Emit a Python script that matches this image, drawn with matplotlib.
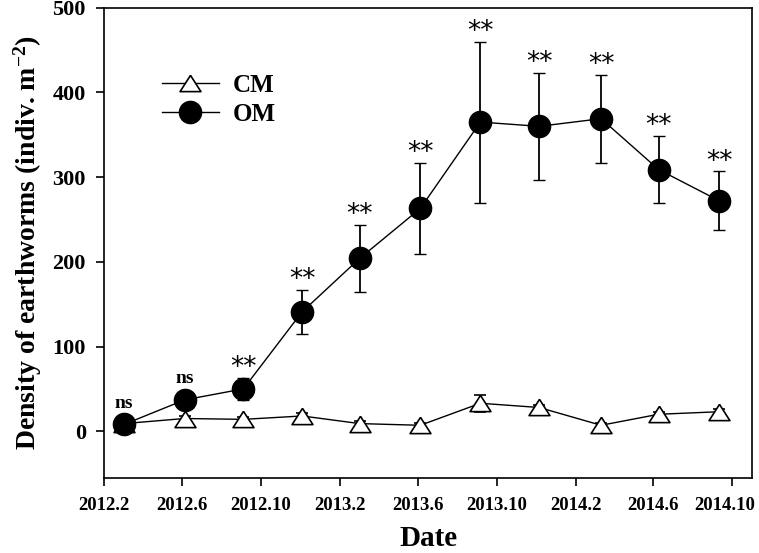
import pandas as pd
import matplotlib
matplotlib.use('Agg')
import matplotlib.pyplot as plt
from matplotlib.lines import Line2D
from matplotlib.transforms import ScaledTranslation

plt.rcParams['font.family'] = ['Liberation Serif', 'DejaVu Serif']
plt.rcParams['mathtext.fontset'] = 'custom'
plt.rcParams['mathtext.rm'] = 'Liberation Serif:bold'
plt.rcParams['mathtext.default'] = 'rm'

# sampling dates
dates = pd.to_datetime([
    '2012-03-03', '2012-06-05', '2012-09-04', '2012-12-04',
    '2013-03-03', '2013-06-05', '2013-09-06', '2013-12-06',
    '2014-03-12', '2014-06-09', '2014-09-11'
])

cm_mean = [9, 15, 14, 18, 9, 7, 33, 28, 7, 20, 23]
cm_err = [3, 3, 3, 3, 3, 3, 10, 3, 3, 3, 3]
om_mean = [8, 37, 50, 141, 204, 263, 365, 360, 369, 309, 272]
om_err = [0, 0, 13, 26, 40, 54, 95, 63, 52, 40, 35]
signif = ['ns', 'ns', '**', '**', '**', '**', '**', '**', '**', '**', '**']

tick_dates = pd.to_datetime([
    '2012-02-01', '2012-06-01', '2012-10-01', '2013-02-01', '2013-06-01',
    '2013-10-01', '2014-02-01', '2014-06-01', '2014-10-01'
])
tick_labels = ['2012.2', '2012.6', '2012.10', '2013.2', '2013.6',
               '2013.10', '2014.2', '2014.6', '2014.10']

# flatter open triangle like the original
tri = [(0, 0.78), (-1, -0.78), (1, -0.78), (0, 0.78)]

fig = plt.figure(figsize=(7.59, 5.53), dpi=100)
ax = fig.add_axes([0.137, 0.136, 0.854, 0.85])

ax.errorbar(dates, cm_mean, yerr=cm_err, fmt='-', marker=tri, color='black',
            mfc='white', mec='black', ms=15, mew=1.2, lw=1, elinewidth=1.3,
            capsize=4.5, zorder=3)
ax.errorbar(dates, om_mean, yerr=om_err, fmt='-o', color='black', mfc='black',
            mec='black', ms=16, lw=1, elinewidth=1.3, capsize=4.5, zorder=4)

for d, m, e, s in zip(dates, om_mean, om_err, signif):
    if s == 'ns':
        ax.text(d, m + e + 15, s, ha='center', va='bottom', fontsize=14,
                fontweight='bold')
    else:
        ax.text(d, m + e - 4, s, ha='center', va='bottom', fontsize=19,
                family=['DejaVu Sans'])

ax.set_xlim(pd.Timestamp('2012-02-01'), pd.Timestamp('2014-11-01'))
ax.set_ylim(-55, 500)
ax.set_xticks(tick_dates)
ax.set_xticklabels(tick_labels, fontsize=13.5, fontweight='bold')
ax.set_yticks([0, 100, 200, 300, 400, 500])
ax.set_yticklabels(['0', '100', '200', '300', '400', '500'], fontsize=16,
                   fontweight='bold')
ax.tick_params(direction='out', length=6, width=1.2, top=False, right=False)
ax.tick_params(axis='x', pad=8)
ax.tick_params(axis='y', pad=7)
for sp in ax.spines.values():
    sp.set_linewidth(1.2)

# last date label sits against the right edge, nudge it left a little
last = ax.get_xticklabels()[-1]
last.set_transform(last.get_transform() +
                   ScaledTranslation(-7 / 100, 0, fig.dpi_scale_trans))

ax.set_xlabel('Date', fontsize=21, fontweight='bold', labelpad=8)
ax.set_ylabel('Density of earthworms (indiv. m$^{-2}$)', fontsize=20,
              fontweight='bold', labelpad=6)

handles = [
    Line2D([], [], color='black', lw=1, marker=tri, ms=15, mfc='white',
           mec='black', mew=1.2),
    Line2D([], [], color='black', lw=1, marker='o', ms=16, mfc='black',
           mec='black'),
]
ax.legend(handles, ['CM', 'OM'], loc='upper left',
          bbox_to_anchor=(0.089, 0.86), frameon=False, borderpad=0,
          borderaxespad=0, prop={'weight': 'bold', 'size': 18},
          handlelength=2.3, handletextpad=0.55, labelspacing=0.25)

fig.savefig('out.png', dpi=100)
